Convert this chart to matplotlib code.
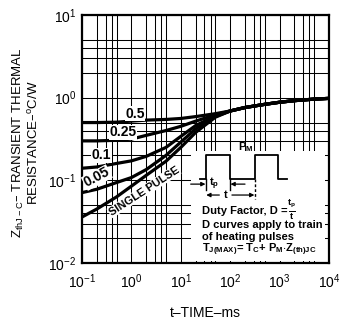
import numpy as np
import matplotlib
matplotlib.use("Agg")
import matplotlib.pyplot as plt
from matplotlib.ticker import LogLocator, LogFormatterMathtext, NullFormatter
from matplotlib.patches import Rectangle

plt.rcParams['font.family'] = ['Liberation Sans', 'DejaVu Sans']
plt.rcParams['mathtext.default'] = 'regular'

# values (t in ms, Z in degC/W)
t_ms = [0.1, 0.2, 0.5, 1, 2, 5, 10, 20, 50, 100, 200, 500, 1000, 2000, 5000, 10000]
tail = [0.69, 0.76, 0.83, 0.88, 0.92, 0.96, 0.98]
z_d050 = [0.50, 0.50, 0.505, 0.52, 0.535, 0.545, 0.56, 0.59, 0.64] + tail
z_d025 = [0.30, 0.30, 0.305, 0.315, 0.35, 0.40, 0.45, 0.52, 0.62] + tail
z_d010 = [0.14, 0.145, 0.16, 0.172, 0.195, 0.25, 0.34, 0.46, 0.60] + tail
z_d005 = [0.071, 0.078, 0.094, 0.108, 0.135, 0.20, 0.29, 0.42, 0.59] + tail
z_single = [0.036, 0.045, 0.063, 0.085, 0.115, 0.17, 0.25, 0.38, 0.58] + tail

curves = [z_d050, z_d025, z_d010, z_d005, z_single]
curve_labels = ["0.5", "0.25", "0.1", "0.05", "SINGLE PULSE"]
label_pos = [(1.18, 0.64), (0.68, 0.38), (0.25, 0.20), (0.2, 0.108), (1.8, 0.074)]
label_rot = [0, 0, 0, 28, 33]
label_size = [10, 10, 10, 10, 8]

fig = plt.figure(figsize=(3.45, 3.23), dpi=100)
ax = fig.add_axes([0.2377, 0.1858, 0.7159, 0.7678])
ax.set_xscale('log')
ax.set_yscale('log')
ax.set_xlim(0.1, 1e4)
ax.set_ylim(1e-2, 1e1)

ax.xaxis.set_major_locator(LogLocator(base=10, numticks=10))
ax.yaxis.set_major_locator(LogLocator(base=10, numticks=10))
ax.xaxis.set_minor_locator(LogLocator(base=10, subs=(2, 3, 4, 5), numticks=20))
ax.yaxis.set_minor_locator(LogLocator(base=10, subs=(2, 3, 4, 5), numticks=20))
ax.xaxis.set_major_formatter(LogFormatterMathtext())
ax.yaxis.set_major_formatter(LogFormatterMathtext())
ax.xaxis.set_minor_formatter(NullFormatter())
ax.yaxis.set_minor_formatter(NullFormatter())
ax.tick_params(which='both', length=0, labelsize=10, colors='black')
ax.tick_params(axis='x', pad=7)
ax.tick_params(axis='y', pad=4)

ax.set_axisbelow(True)
ax.grid(True, which='both', color='black', linewidth=0.75)
for s in ax.spines.values():
    s.set_linewidth(1.6)

# white panel for the pulse sketch
ax.add_patch(Rectangle((0.44, 0.008), 0.545, 0.445, transform=ax.transAxes,
                       facecolor='white', edgecolor='none', zorder=1.5))

for z in curves:
    ax.plot(t_ms, z, color='black', linewidth=2.3, solid_capstyle='butt', zorder=2)

for lab, (x, y), r, fs in zip(curve_labels, label_pos, label_rot, label_size):
    ax.text(x, y, lab, fontsize=fs, fontweight='bold', rotation=r, ha='center', va='center',
            rotation_mode='anchor', zorder=3,
            bbox=dict(facecolor='white', edgecolor='none', pad=0.4))

# pulse train sketch (axes fraction)
tr = ax.transAxes
lo, hi = 0.3375, 0.435
px = [0.478, 0.502, 0.502, 0.599, 0.599, 0.700, 0.700, 0.795, 0.795, 0.830]
py = [lo, lo, hi, hi, lo, lo, hi, hi, lo, lo]
ax.plot(px, py, transform=tr, color='black', linewidth=1.3, zorder=3)
ax.text(0.664, 0.44, r"P$_M$", transform=tr, fontsize=8, fontweight='bold', ha='center', va='bottom', zorder=3)

ax.plot([0.502, 0.502], [lo, 0.295], transform=tr, color='black', linewidth=1.0, zorder=3)
ax.plot([0.599, 0.599], [lo, 0.295], transform=tr, color='black', linewidth=1.0, zorder=3)
ax.plot([0.700, 0.700], [lo, 0.26], transform=tr, color='black', linewidth=1.0, linestyle=(0, (2, 1.5)), zorder=3)
arrow = dict(arrowstyle='-|>', color='black', lw=0.9, mutation_scale=6, shrinkA=0, shrinkB=0)
ax.annotate("", xy=(0.500, 0.318), xytext=(0.44, 0.318), xycoords=tr, textcoords=tr, arrowprops=arrow, zorder=3)
ax.annotate("", xy=(0.601, 0.318), xytext=(0.66, 0.318), xycoords=tr, textcoords=tr, arrowprops=arrow, zorder=3)
ax.text(0.535, 0.321, r"t$_p$", transform=tr, fontsize=8, fontweight='bold', ha='center', va='center', zorder=3)
ax.annotate("", xy=(0.503, 0.274), xytext=(0.556, 0.274), xycoords=tr, textcoords=tr, arrowprops=arrow, zorder=3)
ax.annotate("", xy=(0.698, 0.274), xytext=(0.607, 0.274), xycoords=tr, textcoords=tr, arrowprops=arrow, zorder=3)
ax.text(0.581, 0.276, "t", transform=tr, fontsize=8, fontweight='bold', ha='center', va='center', zorder=3)

notes = ["Duty Factor, D =",
         "D curves apply to train",
         "of heating pulses",
         r"T$_{J(MAX)}$= T$_C$+ P$_M$$\cdot$Z$_{(th)JC}$"]
note_y = [0.208, 0.154, 0.104, 0.055]
note_txt = []
for s, y in zip(notes, note_y):
    note_txt.append(ax.text(0.484, y, s, transform=tr, fontsize=8, fontweight='bold',
                            ha='left', va='center', zorder=3))

# small stacked fraction tp / t after "D ="
fig.canvas.draw()
bb = note_txt[0].get_window_extent().transformed(ax.transAxes.inverted())
fx = bb.x1 + 0.018
ax.text(fx, 0.212, r"t$_p$", transform=tr, fontsize=6.5, fontweight='bold', ha='center', va='bottom', zorder=3)
ax.plot([fx - 0.012, fx + 0.012], [0.210, 0.210], transform=tr, color='black', linewidth=0.7, zorder=3)
ax.text(fx, 0.207, "t", transform=tr, fontsize=6.5, fontweight='bold', ha='center', va='top', zorder=3)

fig.text(0.075, 0.557, "Z$_{thJ-C}$– TRANSIENT THERMAL\nRESISTANCE–$^o$C/W", rotation=90,
         fontsize=9.5, ha='center', va='center', linespacing=1.0)
fig.text(0.596, 0.031, "t–TIME–ms", fontsize=10, ha='center', va='center')

fig.savefig("out.png", dpi=100)
